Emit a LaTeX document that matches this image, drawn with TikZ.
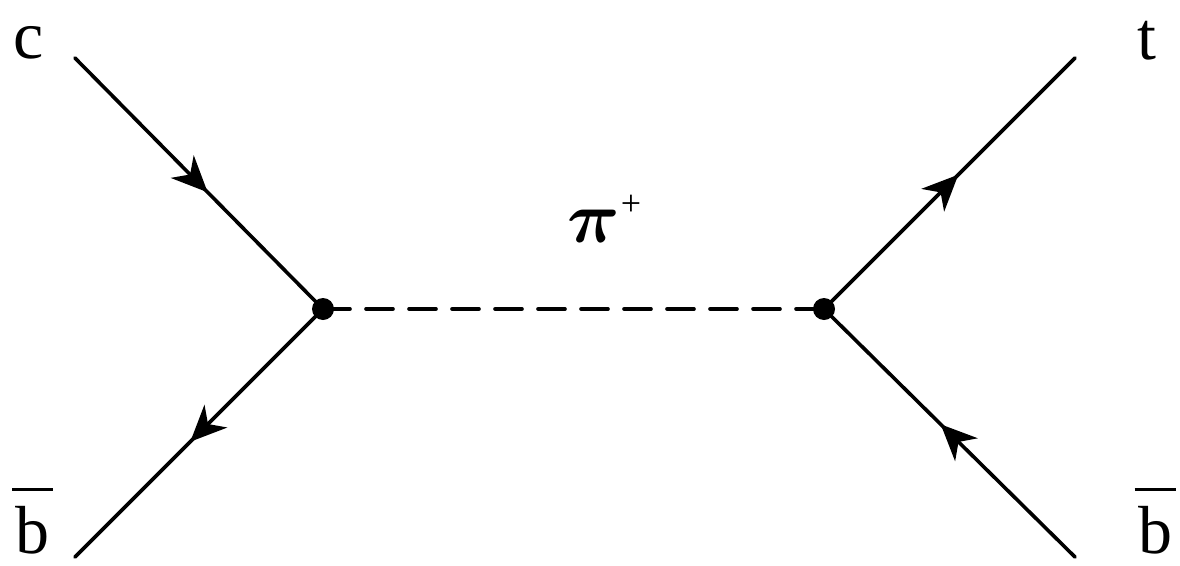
\documentclass[tikz,border=0pt]{standalone}
\usepackage{fontspec}
\usepackage{bm}
\setmainfont{Liberation Serif}
\usetikzlibrary{decorations.markings,arrows.meta}
\newcommand\bbarlbl{\ooalign{b\cr\hidewidth\raisebox{62pt}{\rule{41pt}{3.5pt}}\hidewidth\cr}}
\tikzset{
  fermion/.style={line width=3.6pt, line cap=round, postaction={decorate},
    decoration={markings, mark=at position 0.535 with {\arrow{Stealth[length=36pt,width=32pt,inset=11pt]}}}},
  scalar/.style={line width=3.6pt, line cap=round, dash pattern=on 27pt off 16pt},
  vtx/.style={circle, fill=black, inner sep=0pt, minimum size=22pt},
  lbl/.style={font=\fontsize{68}{70}\selectfont, inner sep=0pt, anchor=base}
}
\begin{document}
\begin{tikzpicture}[x=1pt,y=-1pt]
\useasboundingbox (0,0) rectangle (1180,565);
\coordinate (c) at (75,58);
\coordinate (bl) at (75,557);
\coordinate (t) at (1075,58);
\coordinate (br) at (1075,557);
\node[vtx] (v1) at (323,309) {};
\node[vtx] (v2) at (824,309) {};
\draw[fermion] (c) -- (v1.center);
\draw[fermion] (v1.center) -- (bl);
\draw[fermion] (v2.center) -- (t);
\draw[fermion] (br) -- (v2.center);
\draw[scalar] (v1.center) -- (v2.center);
\node[lbl] (lc) at (29,58) {c};
\node[lbl] (lt) at (1147,59) {t};
\node[lbl] (lb1) at (33,553) {\bbarlbl};
\node[lbl] (lb2) at (1155,553) {\bbarlbl};
\node[inner sep=0pt, anchor=base] (pi) at (594,242) {\scalebox{7.3}{$\bm{\pi}$}};
\node[inner sep=0pt, font=\fontsize{36}{36}\selectfont] (plus) at (631,205) {+};
\end{tikzpicture}
\end{document}
